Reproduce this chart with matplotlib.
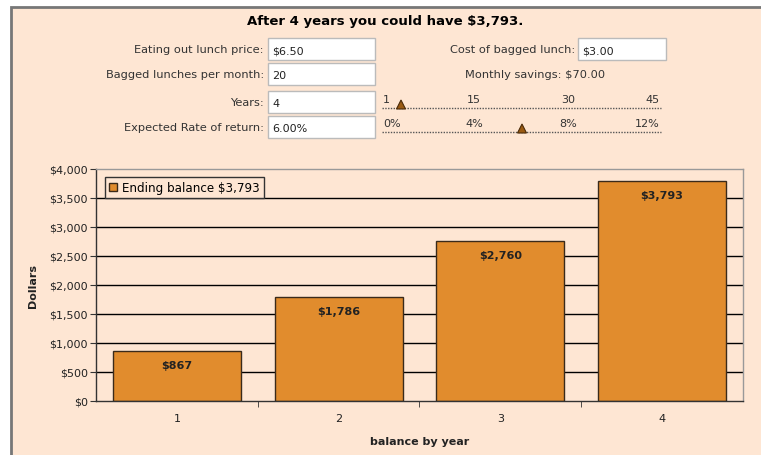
import matplotlib
matplotlib.use("Agg")
import matplotlib.pyplot as plt
from matplotlib.patches import Rectangle, Polygon
from matplotlib.lines import Line2D

# ---- data ----
years = ["1", "2", "3", "4"]
balances = [867, 1786, 2760, 3793]
bar_labels = ["$867", "$1,786", "$2,760", "$3,793"]
y_ticks = [0, 500, 1000, 1500, 2000, 2500, 3000, 3500, 4000]
y_tick_labels = ["$0", "$500", "$1,000", "$1,500", "$2,000", "$2,500", "$3,000", "$3,500", "$4,000"]
legend_label = "Ending balance $3,793"
title = "After 4 years you could have $3,793."
years_slider_labels = ["1", "15", "30", "45"]
rate_slider_labels = ["0%", "4%", "8%", "12%"]

W, H = 761, 456
BG = "#FEE6D3"
BAR = "#E18C2D"
FONT = "DejaVu Sans"
plt.rcParams['font.family'] = [FONT]

fig = plt.figure(figsize=(W / 100, H / 100), dpi=100)
fig.patch.set_facecolor("white")

def fx(x):
    return x / W

def fy(y):
    return 1 - y / H

# peach panel with gray border
fig.patches.append(Rectangle((fx(11), fy(H + 5)), fx(W + 5) - fx(11), fy(8) - fy(H + 5),
                             transform=fig.transFigure, facecolor=BG, edgecolor="#777777",
                             linewidth=2, zorder=-5))

fig.text(fx(385), fy(22), title, ha="center", va="center", fontsize=9.5, fontweight="bold", color="black")

def field(label, value, lx, bx0, bx1, yc):
    fig.text(fx(lx), fy(yc), label, ha="right", va="center", fontsize=8.2, color="#333333")
    fig.patches.append(Rectangle((fx(bx0), fy(yc + 11)), fx(bx1) - fx(bx0), fy(yc - 11) - fy(yc + 11),
                                 transform=fig.transFigure, facecolor="white", edgecolor="#BBBBBB",
                                 linewidth=1, zorder=1))
    fig.text(fx(bx0 + 4), fy(yc + 1), value, ha="left", va="center", fontsize=8, color="#222222", zorder=2)

field("Eating out lunch price:", "$6.50", 264, 268, 375, 50)
field("Bagged lunches per month:", "20", 264, 268, 375, 75)
field("Years:", "4", 264, 268, 375, 103)
field("Expected Rate of return:", "6.00%", 264, 268, 375, 128)
field("Cost of bagged lunch:", "$3.00", 575, 578, 666, 50)
fig.text(fx(535), fy(75), "Monthly savings: $70.00", ha="center", va="center", fontsize=8.2, color="#333333")

def slider(labels, yl, yline, tri_x):
    xs = [383, 474, 568, 660]
    has = ["left", "center", "center", "right"]
    for lab, x, ha in zip(labels, xs, has):
        fig.text(fx(x), fy(yl), lab, ha=ha, va="center", fontsize=8, color="#333333")
    fig.lines.append(Line2D([fx(382), fx(661)], [fy(yline), fy(yline)], transform=fig.transFigure,
                            color="#555555", linewidth=1, linestyle=(0, (1, 1))))
    fig.patches.append(Polygon([(fx(tri_x - 4.5), fy(yline + 1)), (fx(tri_x + 4.5), fy(yline + 1)),
                                (fx(tri_x), fy(yline - 8))], closed=True, transform=fig.transFigure,
                               facecolor="#9A5A12", edgecolor="#4A2A08", linewidth=0.8, zorder=3))

slider(years_slider_labels, 100, 109, 401)
slider(rate_slider_labels, 124, 133, 522)

# ---- chart ----
ax = fig.add_axes([fx(96), fy(402), fx(743) - fx(96), fy(170) - fy(402)])
ax.set_zorder(5)
ax.set_facecolor(BG)
x = range(len(years))
ax.set_xlim(-0.5, len(years) - 0.5)
ax.set_ylim(0, 4000)
for t in y_ticks[1:-1]:
    ax.axhline(t, color="black", linewidth=1, zorder=1)
bars = ax.bar(x, balances, width=0.79, color=BAR, edgecolor="#3A2A1A", linewidth=1, zorder=2,
              label=legend_label)
for xi, v, lab in zip(x, balances, bar_labels):
    ax.annotate(lab, (xi, v), xytext=(0, -10), textcoords="offset points", ha="center", va="center",
                fontsize=8, fontweight="bold", color="#222222", zorder=3)

ax.set_yticks(y_ticks)
ax.set_yticklabels(y_tick_labels, fontsize=8, color="#222222")
ax.set_xticks(list(x))
ax.set_xticklabels(years, fontsize=8, color="#222222")
ax.tick_params(axis="x", length=0, pad=9)
ax.set_xticks([0.5, 1.5, 2.5], minor=True)
ax.tick_params(axis="x", which="minor", length=4, color="#333333", direction="out")
ax.tick_params(axis="y", length=4, color="#333333", direction="out", pad=2)
for s in ["top", "right"]:
    ax.spines[s].set_color("#999999")
    ax.spines[s].set_linewidth(1)
for s in ["left", "bottom"]:
    ax.spines[s].set_color("#333333")
    ax.spines[s].set_linewidth(1)

ax.set_ylabel("Dollars", fontsize=8, fontweight="bold", color="#222222", labelpad=8)
ax.set_xlabel("balance by year", fontsize=8, fontweight="bold", color="#222222", labelpad=9)

leg = ax.legend(loc="upper left", bbox_to_anchor=(0.0135, 0.967), fontsize=8.6, frameon=True,
                fancybox=False, edgecolor="#333333", facecolor=BG, framealpha=1,
                handlelength=0.65, handleheight=0.65, handletextpad=0.45, borderpad=0.35,
                borderaxespad=0)
leg.get_frame().set_linewidth(1)

fig.savefig("out.png", dpi=100, facecolor=fig.get_facecolor())
